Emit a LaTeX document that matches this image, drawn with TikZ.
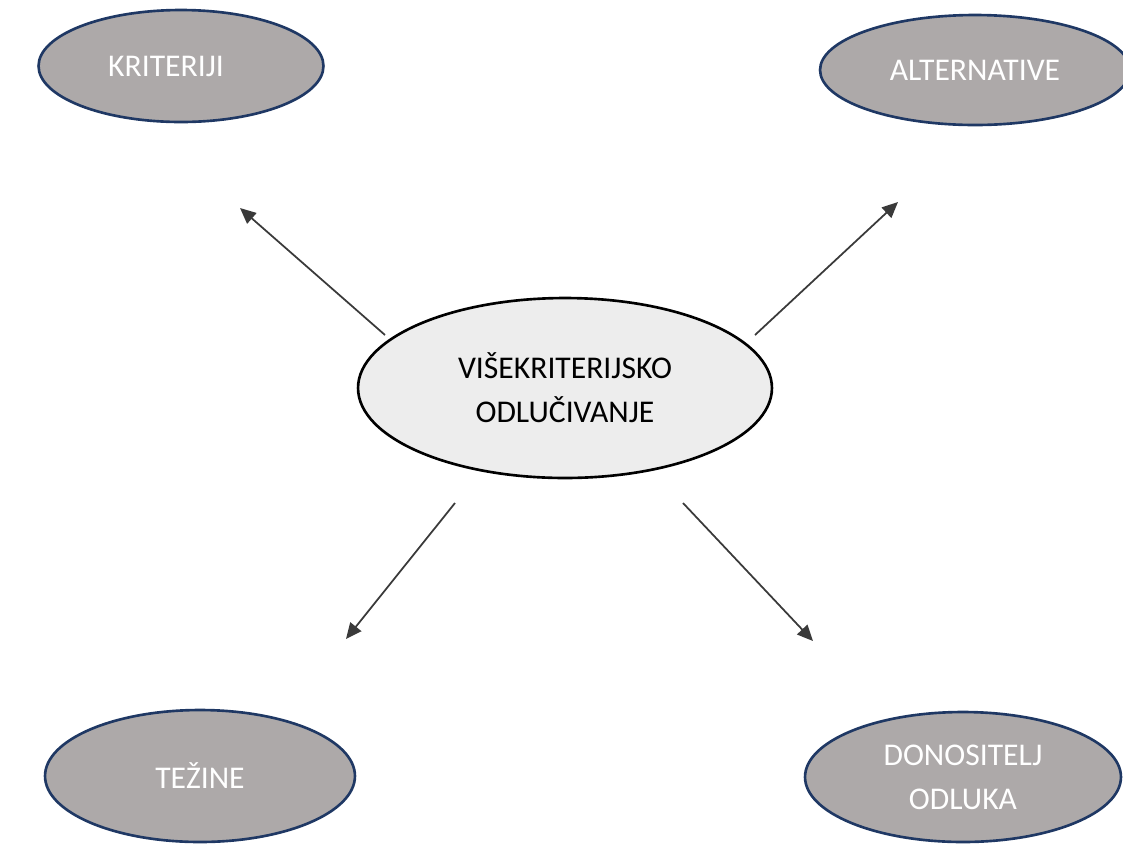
\documentclass[tikz,border=0pt]{standalone}
\usepackage{fontspec}
\setmainfont{Carlito}
\usepackage{tikz}
\usetikzlibrary{arrows.meta,shapes.geometric}

\definecolor{ovalgray}{HTML}{ADA9A9}
\definecolor{ovalline}{HTML}{1F3864}
\definecolor{corefill}{HTML}{EDEDED}
\definecolor{arrowline}{HTML}{3A3A3A}

\tikzset{
  outer/.style={ellipse,draw=ovalline,line width=1.5pt,fill=ovalgray,
    text=white,inner sep=0pt,align=center},
  core/.style={ellipse,draw=black,line width=1.5pt,fill=corefill,
    text=black,inner sep=0pt,align=center},
  link/.style={draw=arrowline,line width=1pt,
    -{Triangle[length=9pt,width=8pt]}}
}

\begin{document}
\begin{tikzpicture}[x=0.02cm,y=-0.02cm]
        \fontsize{18}{25}\selectfont
        \clip (0,0) rectangle (1123,843);

        \node[core,minimum width=8.28cm,minimum height=3.6cm] (M) at (565,388)
          {VIŠEKRITERIJSKO\\ODLUČIVANJE};

        \node[outer,minimum width=5.7cm,minimum height=2.24cm] (K) at (181,66)
          {KRITERIJI\hspace*{0.6cm}};
        \node[outer,minimum width=6.2cm,minimum height=2.2cm] (A) at (975,70) {ALTERNATIVE};
        \node[outer,minimum width=6.2cm,minimum height=2.64cm] (T) at (200,776) {TEŽINE};
        \node[outer,minimum width=6.32cm,minimum height=2.6cm] (D) at (963,777)
          {DONOSITELJ\\ODLUKA};

        % free arrow ends between the ovals
        \coordinate (MK) at (385,335);
        \coordinate (KM) at (240,208);
        \coordinate (MA) at (755,335);
        \coordinate (AM) at (898,202);
        \coordinate (MT) at (455,503);
        \coordinate (TM) at (346,639);
        \coordinate (MD) at (683,503);
        \coordinate (DM) at (813,641);

        \draw[link] (MK) -- (KM);
        \draw[link] (MA) -- (AM);
        \draw[link] (MT) -- (TM);
        \draw[link] (MD) -- (DM);
      \end{tikzpicture}
\end{document}
